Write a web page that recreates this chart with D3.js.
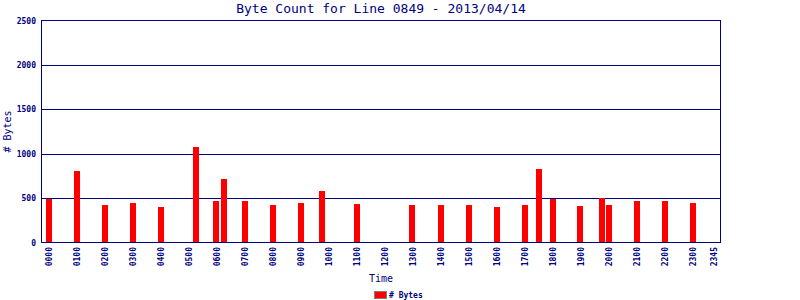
<!DOCTYPE html>
<html>
<head>
<meta charset="utf-8">
<script src="https://cdn.jsdelivr.net/npm/d3@7"></script>
<style>
  body { margin: 0; background: #fff; }
  text { font-family: "DejaVu Sans Mono", monospace; fill: #000080; }
</style>
</head>
<body>
<script>
// bar data: time of reading (hhmm) and byte count
var times = ["0000","0100","0200","0300","0400","0515","0600","0615","0700","0800","0900","0945","1100",
             "1300","1400","1500","1600","1700","1730","1800","1900","1945","2000","2100","2200","2300"]
var bytes = [495,810,420,440,400,1080,465,710,465,420,440,575,430,
             420,420,420,400,420,825,485,410,505,420,465,465,440]

var tickLabels = ["0000","0100","0200","0300","0400","0500","0600","0700","0800","0900","1000","1100","1200",
                  "1300","1400","1500","1600","1700","1800","1900","2000","2100","2200","2300","2345"]
var yTicks = [0, 500, 1000, 1500, 2000, 2500]

var w = 800, h = 300,
  plot = {left: 41.5, right: 720.5, top: 20.5, bottom: 242.5}

function toMin(s){ return +s.slice(0,2) * 60 + +s.slice(2) }

var data = times.map(function(t, i){ return {t: toMin(t), v: bytes[i]} })

var svg = d3.select("body").append("svg").attr("width", w).attr("height", h)

var x = d3.scaleLinear().domain([-15, 1440]).range([plot.left, plot.right])
var y = d3.scaleLinear().domain([0, 2500]).range([plot.bottom, plot.top])

var navy = "#000080"

// gridlines
svg.selectAll("line.grid").data(yTicks.slice(1, -1)).enter().append("line")
  .attr("class", "grid")
  .attr("x1", plot.left).attr("x2", plot.right)
  .attr("y1", function(d){ return Math.round(y(d)) + 0.5 })
  .attr("y2", function(d){ return Math.round(y(d)) + 0.5 })
  .attr("stroke", navy)

// bars
var bw = 6
svg.selectAll("rect.bar").data(data).enter().append("rect")
  .attr("class", "bar")
  .attr("x", function(d){ return Math.round(x(d.t) - bw / 2) })
  .attr("width", bw)
  .attr("y", function(d){ return Math.round(y(d.v)) })
  .attr("height", function(d){ return plot.bottom - Math.round(y(d.v)) })
  .attr("fill", "#ff0000")

// frame
svg.append("rect")
  .attr("x", plot.left).attr("y", plot.top)
  .attr("width", plot.right - plot.left).attr("height", plot.bottom - plot.top)
  .attr("fill", "none").attr("stroke", navy)

// y tick labels
svg.selectAll("text.ytick").data(yTicks).enter().append("text")
  .attr("class", "ytick")
  .attr("x", 36).attr("y", function(d){ return y(d) + 3 })
  .attr("text-anchor", "end")
  .attr("font-size", 8).attr("font-weight", "bold")
  .text(function(d){ return d })

// x tick labels (rotated)
svg.selectAll("text.xtick").data(tickLabels).enter().append("text")
  .attr("class", "xtick")
  .attr("transform", function(d){ return "translate(" + (x(toMin(d)) + 3) + ",247) rotate(-90)" })
  .attr("text-anchor", "end")
  .attr("font-size", 8).attr("font-weight", "bold")
  .text(function(d){ return d })

// title
svg.append("text").text("Byte Count for Line 0849 - 2013/04/14")
  .attr("x", (plot.left + plot.right) / 2).attr("y", 13)
  .attr("text-anchor", "middle").attr("font-size", 13)

// axis labels
svg.append("text").text("Time")
  .attr("x", (plot.left + plot.right) / 2).attr("y", 282)
  .attr("text-anchor", "middle").attr("font-size", 10)

svg.append("text").text("# Bytes")
  .attr("transform", "translate(11," + (plot.top + plot.bottom) / 2 + ") rotate(-90)")
  .attr("text-anchor", "middle").attr("font-size", 10)

// legend
svg.append("rect").attr("x", 374.5).attr("y", 291.5).attr("width", 12).attr("height", 7)
  .attr("fill", "#ff0000").attr("stroke", "#808080")
svg.append("text").text("# Bytes")
  .attr("x", 389).attr("y", 298)
  .attr("font-size", 8).attr("font-weight", "bold")
</script>
</body>
</html>
